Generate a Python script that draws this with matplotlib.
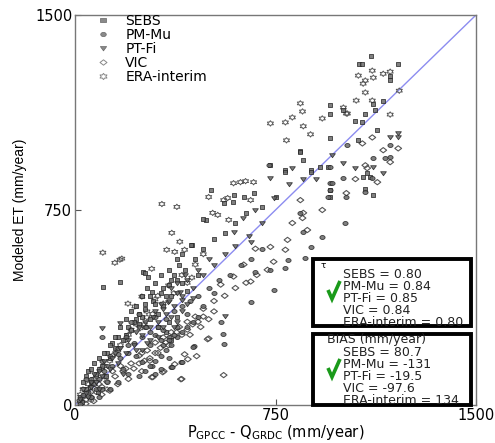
import matplotlib
matplotlib.use("Agg")
import numpy as np
import matplotlib.pyplot as plt
from matplotlib.patches import Rectangle
from matplotlib.lines import Line2D
from matplotlib.path import Path

plt.rcParams['font.family'] = ['DejaVu Sans']

# ---------------- data (mm/year) ----------------
sebs_x = [1107, 1063, 1075, 1209, 1179, 1179, 955, 955, 1116, 1123, 1153, 1086, 1049, 1075, 1131, 955,
          1060, 1004, 843, 851, 731, 787, 881, 948, 787, 881, 918, 843, 668, 631, 593, 507, 489, 556,
          590, 437, 478, 254, 272, 433, 261, 168, 104, 287, 1093, 1078, 955, 955, 1086, 1116, 1104,
          20, 40, 60, 80, 100, 130, 150, 180, 200, 230, 260, 290, 320, 350, 380, 410, 450, 120, 160,
          210, 250, 300, 340, 370, 390, 480, 520, 560, 600, 640, 700, 750, 30, 50, 70, 90, 140, 190,
          240, 280, 310, 330, 360, 400, 420, 460, 25, 55, 85, 115,
          170, 190, 210, 230, 250, 270, 300, 320, 350, 380, 400, 220, 240, 260, 280, 330, 360, 150,
          130, 110, 90, 60, 40, 310, 340, 360, 350, 380]
sebs_y = [1343, 1313, 1313, 1313, 1267, 1251, 1152, 1121, 1156, 1133, 1171, 1121, 1094, 1087, 1056, 1026,
          1018, 1133, 976, 941, 922, 903, 903, 915, 896, 896, 915, 972, 815, 800, 807, 827, 712, 777,
          781, 616, 716, 513, 494, 616, 509, 475, 455, 436, 892, 876, 827, 800, 831, 807, 876,
          30, 60, 90, 120, 150, 180, 220, 250, 300, 330, 370, 400, 430, 460, 480, 520, 560, 200, 260,
          290, 340, 390, 420, 500, 540, 600, 640, 660, 700, 740, 760, 800, 90, 130, 160, 140, 240, 270,
          310, 330, 350, 380, 420, 470, 440, 500, 10, 70, 50, 110,
          300, 330, 360, 380, 420, 450, 470, 500, 520, 560, 580, 320, 350, 390, 420, 450, 480, 260,
          230, 200, 180, 140, 110, 300, 280, 250, 320, 340]

pmmu_x = [1019, 1179, 1116, 1160, 1179, 1004, 955, 955, 1112, 1086, 1015, 724, 963, 955, 948, 843, 854,
          925, 881, 862, 795, 787, 731, 675, 743, 1011, 552, 556, 545, 444, 396, 358, 657, 362, 399,
          440, 287, 250, 101, 160, 15, 30, 50, 70, 90, 110, 140, 170, 200, 220, 250, 280, 310, 340, 370,
          400, 430, 460, 500, 540, 580, 620, 660, 700, 200, 260, 300, 330, 380, 420, 480, 520, 40, 80,
          120, 180, 230, 280, 190, 210, 240, 265, 300, 320, 350, 20, 60, 100,
          280, 300, 320, 340, 360, 300, 320, 260, 240, 350, 380, 400, 420, 440, 460, 330, 350, 370,
          60, 100, 130, 160, 90, 130, 160, 200]
pmmu_y = [999, 999, 949, 949, 953, 873, 915, 853, 873, 819, 800, 922, 853, 827, 800, 739, 666,
          647, 608, 566, 559, 528, 520, 513, 444, 700, 272, 233, 318, 226, 165, 145, 398, 145, 165,
          222, 149, 165, 260, 195, 20, 40, 50, 80, 100, 130, 150, 180, 200, 240, 260, 280, 300, 330, 360,
          380, 400, 420, 450, 480, 500, 540, 560, 600, 230, 300, 340, 290, 300, 350, 380, 430, 100, 60,
          90, 140, 190, 230, 260, 320, 350, 300, 270, 250, 260, 5, 30, 60,
          150, 170, 190, 210, 230, 120, 140, 130, 110, 180, 260, 280, 300, 320, 340, 230, 250, 270,
          100, 170, 190, 220, 30, 60, 90, 120]

ptfi_x = [1179, 1209, 1209, 1004, 1049, 1116, 1153, 731, 743, 675, 627, 593, 657, 813, 854, 101, 168,
          392, 399, 347, 560, 800, 900, 960, 20, 40, 60, 80, 100, 130, 160, 190, 220, 250, 280, 310,
          340, 370, 400, 440, 480, 520, 560, 600, 650, 700, 30, 70, 110, 150, 200, 240, 290, 320, 380,
          420, 460, 500, 270, 230, 180, 330,
          230, 260, 300, 330, 350, 360, 370, 380, 400, 420, 440, 170, 140, 120, 90, 60, 50, 90, 310,
          280, 250, 360, 380, 410]
ptfi_y = [1029, 1045, 1029, 930, 911, 915, 892, 873, 796, 750, 719, 666, 628, 911, 869, 298, 314,
          436, 402, 398, 341, 850, 870, 960, 25, 45, 70, 90, 110, 140, 160, 200, 230, 270, 300, 320,
          350, 380, 420, 450, 500, 540, 580, 610, 650, 700, 60, 120, 170, 200, 250, 300, 340, 390, 430,
          480, 520, 560, 240, 210, 120, 300,
          280, 320, 360, 370, 400, 340, 300, 320, 360, 390, 410, 220, 180, 150, 130, 90, 30, 60, 260,
          250, 210, 450, 470, 500]

vic_x = [1075, 1112, 1153, 1209, 1179, 1086, 1093, 1049, 1131, 1015, 925, 813, 851, 854, 843, 869,
         795, 787, 731, 675, 743, 631, 593, 657, 545, 287, 328, 399, 373, 410, 496, 455, 422, 500,
         556, 396, 332, 291, 20, 40, 60, 80, 100, 120, 150, 180, 210, 240, 270, 300, 330, 360, 390,
         420, 450, 480, 520, 560, 600, 640, 680, 720, 40, 70, 100, 130, 160, 200, 250, 280, 310, 350,
         430, 470,
         220, 240, 260, 280, 300, 320, 340, 360, 380, 400, 420, 440, 460, 480, 500, 520, 30, 60, 90,
         110, 140, 170, 190, 250]
vic_y = [1006, 1029, 980, 987, 934, 922, 911, 869, 857, 815, 750, 700, 719, 739, 788, 673,
         635, 597, 608, 601, 551, 540, 494, 475, 463, 107, 126, 100, 157, 195, 253, 188, 176, 256,
         115, 99, 130, 107, 10, 20, 30, 50, 70, 90, 110, 130, 160, 190, 210, 240, 260, 280, 300,
         320, 340, 370, 400, 420, 450, 470, 500, 520, 5, 15, 40, 55, 80, 100, 130, 170, 200, 230,
         270, 300,
         140, 160, 170, 180, 200, 220, 240, 260, 280, 270, 290, 310, 320, 340, 330, 360, 30, 50, 80,
         110, 130, 150, 140, 200]

era_x = [1060, 1112, 1116, 1153, 1179, 1078, 1086, 1086, 1213, 1052, 1112, 1004, 1015, 1179, 843, 851,
         731, 787, 813, 854, 881, 791, 925, 1019, 593, 619, 638, 668, 500, 556, 571, 657, 515, 534,
         575, 325, 381, 362, 392, 104, 149, 168, 175, 287, 343, 373, 410, 437, 198, 224, 269, 269,
         250, 299, 243, 20, 50, 80, 110, 140, 170, 200, 230, 310, 350, 400, 450, 480, 60, 120,
         30, 70, 100, 130, 160, 190, 210, 260, 290, 330, 370, 420]
era_y = [1267, 1286, 1259, 1274, 1282, 1236, 1248, 1202, 1209, 1171, 1171, 1144, 1121, 1117, 1160, 1129,
         1083, 1087, 1106, 1072, 1041, 1018, 1102, 1121, 853, 857, 861, 857, 800, 788, 796, 788, 739, 731,
         712, 773, 762, 662, 628, 586, 547, 559, 563, 524, 597, 589, 597, 490, 390, 379, 360, 337,
         417, 406, 295, 40, 80, 110, 150, 190, 230, 270, 310, 420, 460, 500, 540, 580, 20, 60,
         60, 100, 140, 170, 210, 250, 290, 310, 350, 390, 430, 470]

series_names = ["SEBS", "PM-Mu", "PT-Fi", "VIC", "ERA-interim"]
tau_labels = ["SEBS = 0.80", "PM-Mu = 0.84", "PT-Fi = 0.85", "VIC = 0.84", "ERA-interim = 0.80"]
bias_title = "BIAS (mm/year)"
bias_labels = ["SEBS = 80.7", "PM-Mu = -131", "PT-Fi = -19.5", "VIC = -97.6", "ERA-interim = 134"]
ticks = [0, 750, 1500]

# ---------------- horizontally stretched marker shapes ----------------
SX = 1.3
def mk(verts):
    v = [(x * SX, y) for x, y in verts]
    v.append(v[0])
    return Path(v, closed=True)

m_sq = mk([(-1, -1), (1, -1), (1, 1), (-1, 1)])
_t = np.linspace(0, 2 * np.pi, 25)[:-1]
m_ci = mk(list(zip(np.cos(_t), np.sin(_t))))
m_tri = mk([(-1, 0.8), (1, 0.8), (0, -1)])
m_dia = mk([(-1, 0), (0, 1), (1, 0), (0, -1)])
_a = np.pi / 2 + np.arange(12) * np.pi / 6
_r = np.where(np.arange(12) % 2 == 0, 1.0, 0.58)
m_hex = mk(list(zip(_r * np.cos(_a), _r * np.sin(_a))))

# ---------------- figure ----------------
W, H = 495, 443
fig = plt.figure(figsize=(W / 100, H / 100), dpi=100)
L, R, T, B = 75, 476, 15, 405
ax = fig.add_axes([L / W, 1 - B / H, (R - L) / W, (B - T) / H])

fc = '#6a6a6a'
ec = '#222222'
oc = '#555555'
ax.plot([0, 1500], [0, 1500], color='#8c8cf0', lw=1.0, zorder=1)
ax.scatter(sebs_x, sebs_y, marker=m_sq, s=12, facecolor=fc, edgecolor=ec, linewidths=0.6, alpha=0.85, zorder=3)
ax.scatter(pmmu_x, pmmu_y, marker=m_ci, s=14, facecolor=fc, edgecolor=ec, linewidths=0.6, alpha=0.85, zorder=3)
ax.scatter(ptfi_x, ptfi_y, marker=m_tri, s=17, facecolor=fc, edgecolor=ec, linewidths=0.6, alpha=0.85, zorder=3)
ax.scatter(vic_x, vic_y, marker=m_dia, s=24, facecolor='none', edgecolor=oc, linewidths=0.8, zorder=2)
ax.scatter(era_x, era_y, marker=m_hex, s=19, facecolor='none', edgecolor=oc, linewidths=0.7, zorder=2)

ax.set_xlim(0, 1500)
ax.set_ylim(0, 1500)
ax.set_xticks(ticks)
ax.set_yticks(ticks)
ax.set_xticklabels([str(t) for t in ticks], fontsize=10.5)
ax.set_yticklabels([str(t) for t in ticks], fontsize=10.5)
ax.tick_params(direction='in', length=4, width=0.8, color='#555555', pad=2)
for s in ax.spines.values():
    s.set_color('#777777')
    s.set_linewidth(1.0)

ax.set_xlabel(r'P$_{\mathregular{GPCC}}$ - Q$_{\mathregular{GRDC}}$ (mm/year)', fontsize=10.5, labelpad=0)
ax.set_ylabel('Modeled ET (mm/year)', fontsize=10, labelpad=6,
              family=['Liberation Sans Narrow', 'Liberation Sans'])

# legend
lh = [Line2D([], [], ls='none', marker=m_sq, ms=4, mfc='#8a8a8a', mec='#666666', mew=0.5),
      Line2D([], [], ls='none', marker=m_ci, ms=4, mfc='#8a8a8a', mec='#666666', mew=0.5),
      Line2D([], [], ls='none', marker=m_tri, ms=4.5, mfc='#8a8a8a', mec='#666666', mew=0.5),
      Line2D([], [], ls='none', marker=m_dia, ms=5, mfc='none', mec='#888888', mew=0.7),
      Line2D([], [], ls='none', marker=m_hex, ms=5, mfc='none', mec='#888888', mew=0.7)]
ax.legend(lh, series_names, loc='upper left',
          bbox_to_anchor=((96 - L) / (R - L), 1 - (14 - T) / (B - T)), frameon=False, fontsize=10,
          handlelength=1.0, handletextpad=1.1, labelspacing=0.0, borderpad=0, borderaxespad=0)

# boxes
def px2fig(x, y):
    return x / W, 1 - y / H

def draw_box(x0, y0, x1, y1):
    fx0, fy1 = px2fig(x0, y1)
    fx1, fy0 = px2fig(x1, y0)
    r = Rectangle((fx0, fy1), fx1 - fx0, fy0 - fy1, transform=fig.transFigure,
                  facecolor='white', edgecolor='black', lw=2.8, zorder=5)
    fig.add_artist(r)

def draw_check(x0, y0):
    xs = [x0, x0 + 4, x0 + 12]
    ys = [y0, y0 + 9, y0 - 9]
    pts = [px2fig(x, y) for x, y in zip(xs, ys)]
    fig.add_artist(Line2D([p[0] for p in pts], [p[1] for p in pts], transform=fig.transFigure,
                          color='#1a9a1a', lw=2.6, solid_joinstyle='miter', solid_capstyle='butt',
                          zorder=7))

draw_box(313, 259, 471, 326)
draw_box(313, 334, 471, 405)

BF = 9
LS = 0.9
fig.text(*px2fig(321, 265), "τ", fontsize=6.5, va='center', ha='left', zorder=6)
fig.text(*px2fig(343, 298), "\n".join(tau_labels), fontsize=BF, va='center', ha='left',
         color='#222222', zorder=6, linespacing=LS)
draw_check(328, 290)

fig.text(*px2fig(327, 370), "\n".join([bias_title] + ["    " + l for l in bias_labels]), fontsize=BF,
         va='center', ha='left', color='#222222', zorder=6, linespacing=LS)
draw_check(328, 368)

fig.savefig('out.png', dpi=100)
